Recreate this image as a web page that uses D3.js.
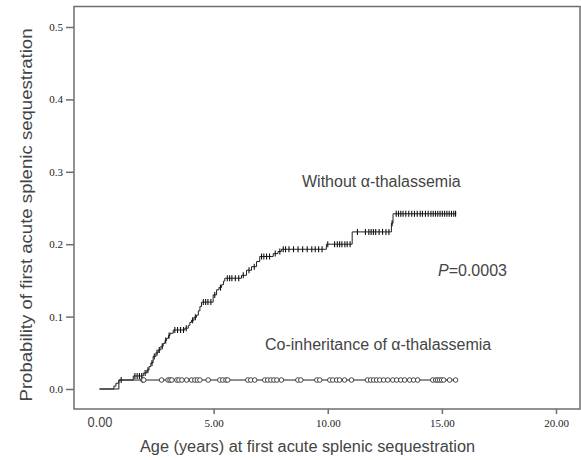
<!DOCTYPE html>
<html><head><meta charset="utf-8">
<script src="https://cdn.jsdelivr.net/npm/d3@7"></script>
<style>body{margin:0;background:#fff}svg{display:block}</style>
</head><body>
<script>
// ---- data ----
const yTicks = [0.0, 0.1, 0.2, 0.3, 0.4, 0.5];
const yTickLabels = ["0.0", "0.1", "0.2", "0.3", "0.4", "0.5"];
const xTicks = [0, 5, 10, 15, 20];
const xTickLabels = ["0.00", "5.00", "10.00", "15.00", "20.00"];

// Without alpha-thalassemia: step times and cumulative probability
const withoutTimes = [0, 0.63, 0.72, 0.85, 1.48, 1.92, 2.07, 2.17, 2.25, 2.35, 2.47, 2.57, 2.69, 2.79, 2.87, 2.94, 3.02, 3.09, 3.23,
  3.74, 3.89, 3.96, 4.03, 4.14, 4.25, 4.33, 4.40, 4.47, 4.98, 5.13, 5.23, 5.35, 5.43, 5.49, 6.22, 6.44, 6.66, 6.88, 7.02,
  7.61, 7.82, 7.97, 9.94, 11.07, 12.79, 12.86, 15.63];
const withoutProbs = [0, 0.004, 0.008, 0.0124, 0.018, 0.022, 0.026, 0.031, 0.036, 0.045, 0.05, 0.054, 0.059, 0.063, 0.067, 0.07, 0.074, 0.077, 0.0815,
  0.084, 0.088, 0.092, 0.095, 0.099, 0.102, 0.108, 0.114, 0.12, 0.13, 0.137, 0.14, 0.144, 0.149, 0.153, 0.157, 0.164, 0.169, 0.176, 0.183,
  0.187, 0.19, 0.193, 0.2, 0.217, 0.229, 0.242, 0.242];
const withoutCensored = [0.95, 1.55, 1.65, 1.75, 1.85, 2.0, 2.12, 2.3, 2.4, 2.52, 2.62, 2.75, 2.9, 3.05, 3.3, 3.42, 3.55, 3.68, 3.8, 4.08, 4.2,
  4.55, 4.65, 4.75, 4.88, 5.05, 5.3, 5.6, 5.7, 5.8, 5.95, 6.1, 6.3, 6.55, 6.78, 7.1, 7.2, 7.32, 7.45, 7.7, 7.9, 8.05, 8.15, 8.3, 8.5, 8.7,
  8.9, 9.1, 9.3, 9.45, 9.6, 9.75, 10.0, 10.3, 10.42, 10.52, 10.62, 10.75, 10.85, 10.98, 11.3, 11.65, 11.8, 11.9, 12.0, 12.1, 12.25, 12.4,
  12.55, 12.68, 12.82, 13.0, 13.1, 13.2, 13.3, 13.42, 13.55, 13.68, 13.8, 13.92, 14.05, 14.15, 14.28, 14.4, 14.52, 14.62, 14.72, 14.82,
  14.92, 15.02, 15.12, 15.22, 15.32, 15.42, 15.52, 15.6];

// Co-inheritance of alpha-thalassemia
const coTimes = [0, 0.85, 15.62];
const coProbs = [0, 0.0124, 0.0124];
const coCensored = [1.90, 1.94, 2.72, 3.0, 3.09, 3.17, 3.39, 3.48, 3.61, 3.82, 4.03, 4.18, 4.29, 4.40, 4.76, 5.27, 5.40, 5.54, 5.62,
  6.50, 6.63, 6.80, 7.24, 7.37, 7.51, 7.64, 7.77, 7.97, 8.69, 8.82, 9.52, 9.65, 10.09, 10.22, 10.39, 10.52, 10.74, 11.04,
  11.74, 11.88, 12.01, 12.14, 12.28, 12.45, 12.63, 12.85, 13.02, 13.2, 13.37, 13.59, 13.76, 13.94, 14.6, 14.73, 14.81, 14.9,
  14.99, 15.08, 15.34, 15.6];

// ---- drawing ----
const W = 581, H = 460;
const frame = {left: 74, top: 6.5, right: 580, bottom: 409};
const svg = d3.select("body").append("svg").attr("width", W).attr("height", H);
const x = d3.scaleLinear().domain([0, 20]).range([99.5, 556]);
const y = d3.scaleLinear().domain([0, 0.5]).range([389, 27]);

const axisColor = "#6e6e6e";
const serif = "'Liberation Serif', 'Times New Roman', 'DejaVu Serif', serif";
const sans = "'Liberation Sans', Arial, Helvetica, sans-serif";

svg.append("rect").attr("x", frame.left).attr("y", frame.top)
  .attr("width", frame.right - frame.left).attr("height", frame.bottom - frame.top)
  .attr("fill", "none").attr("stroke", axisColor).attr("stroke-width", 1.5);

// y axis
const yAxis = d3.axisLeft(y).tickValues(yTicks).tickSize(8).tickPadding(3)
  .tickFormat((d, i) => yTickLabels[i]);
const gy = svg.append("g").attr("transform", `translate(${frame.left},0)`).call(yAxis)
  .attr("font-family", serif).attr("font-size", 11);
gy.select(".domain").remove();
gy.selectAll(".tick line").attr("stroke", axisColor).attr("stroke-width", 1.5);
gy.selectAll(".tick text").style("font-family", serif).style("font-size", "11px").attr("fill", "#222");

// x axis
const xAxis = d3.axisBottom(x).tickValues(xTicks).tickSize(5).tickPadding(5)
  .tickFormat((d, i) => xTickLabels[i]);
const gx = svg.append("g").attr("transform", `translate(0,${frame.bottom})`).call(xAxis)
  .attr("font-family", serif).attr("font-size", 11);
gx.select(".domain").remove();
gx.selectAll(".tick line").attr("stroke", axisColor).attr("stroke-width", 1.5)
  .attr("opacity", (d, i) => i === 0 ? 0 : 1);
gx.selectAll(".tick text").style("font-family", serif).style("font-size", "11px").attr("fill", "#222");
gx.selectAll(".tick text").filter((d, i) => i === 0)
  .style("font-family", sans).style("font-size", "15px")
  .attr("fill", "#444").attr("y", 7)
  .attr("textLength", 25).attr("lengthAdjust", "spacingAndGlyphs");

// step lines
const line = d3.line().x(d => x(d[0])).y(d => y(d[1])).curve(d3.curveStepAfter);
const withoutData = withoutTimes.map((t, i) => [t, withoutProbs[i]]);
const coData = coTimes.map((t, i) => [t, coProbs[i]]);
svg.append("path").datum(coData).attr("d", line).attr("fill", "none").attr("stroke", "#222").attr("stroke-width", 1);
svg.append("path").datum(withoutData).attr("d", line).attr("fill", "none").attr("stroke", "#222").attr("stroke-width", 1);

const bis = d3.bisector(d => d).right;
function valAt(times, probs, t) { const i = bis(times, t) - 1; return probs[Math.max(0, i)]; }

// censor marks (+)
svg.append("g").selectAll("line").data(withoutCensored).join("line")
  .attr("x1", d => x(d)).attr("x2", d => x(d))
  .attr("y1", d => y(valAt(withoutTimes, withoutProbs, d)) - 3)
  .attr("y2", d => y(valAt(withoutTimes, withoutProbs, d)) + 3)
  .attr("stroke", "#111").attr("stroke-width", 1.1);

// censor circles
svg.append("g").selectAll("circle").data(coCensored).join("circle")
  .attr("cx", d => x(d)).attr("cy", d => y(valAt(coTimes, coProbs, d)))
  .attr("r", 2.3).attr("fill", "#fff").attr("stroke", "#333").attr("stroke-width", 0.9);

// annotations
svg.append("text").attr("x", 302).attr("y", 187).style("font-family", sans).style("font-size", "16px").attr("fill", "#444")
  .text("Without α-thalassemia");
svg.append("text").attr("x", 265).attr("y", 350).style("font-family", sans).style("font-size", "16px").attr("fill", "#444")
  .text("Co-inheritance of α-thalassemia");
const pt = svg.append("text").attr("x", 438).attr("y", 276).style("font-family", sans).style("font-size", "16px").attr("fill", "#444");
pt.append("tspan").attr("font-style", "italic").text("P");
pt.append("tspan").text("=0.0003");

// axis titles
svg.append("text").attr("x", 307.5).attr("y", 452).attr("text-anchor", "middle")
  .style("font-family", sans).style("font-size", "16px").attr("fill", "#444")
  .attr("textLength", 335).attr("lengthAdjust", "spacingAndGlyphs")
  .text("Age (years) at first acute splenic sequestration");
svg.append("text").attr("transform", "translate(32,215) rotate(-90)").attr("text-anchor", "middle")
  .style("font-family", sans).style("font-size", "16px").attr("fill", "#444")
  .attr("textLength", 373).attr("lengthAdjust", "spacingAndGlyphs")
  .text("Probability of first acute splenic sequestration");
</script>
</body></html>
